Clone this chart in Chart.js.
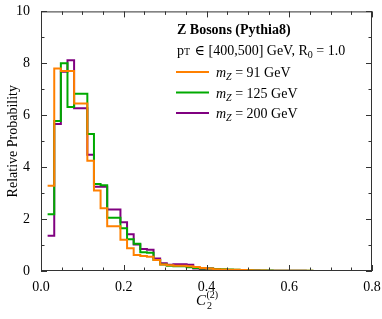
<!DOCTYPE html>
<html>
<head>
<meta charset="utf-8">
<script src="https://cdn.jsdelivr.net/npm/chart.js@4/dist/chart.umd.min.js"></script>
<style>
  html, body { margin: 0; padding: 0; background: #fff; }
  canvas { display: block; }
</style>
</head>
<body>
<canvas id="c2Chart" width="382" height="319"></canvas>
<script>
// histogram bins of width 0.016 from 0 to 0.8 (first bin empty)
const binWidth = 0.016;
const xTicks = [0.0, 0.2, 0.4, 0.6, 0.8];
const yTicks = [0, 2, 4, 6, 8, 10];

const mz91 = [null, 3.28, 7.80, 7.70, 7.70, 6.45, 6.45, 4.25, 3.10, 2.42,
  1.72, 1.72, 1.20, 0.88, 0.62, 0.58, 0.55, 0.42, 0.25, 0.22,
  0.20, 0.20, 0.18, 0.15, 0.12, 0.10, 0.07, 0.06, 0.05, 0.05,
  0.04, 0.03, 0.02, 0.02, 0.01, 0.01, 0.01, 0.01, 0.01, 0.01,
  0.01, 0.0, 0.0, 0.0, 0.0, 0.0, 0.0, 0.0, 0.0, 0.0];
const mz125 = [null, 2.19, 5.78, 8.00, 6.32, 6.83, 6.83, 5.28, 3.35, 3.30,
  2.05, 2.05, 1.65, 1.22, 1.05, 0.72, 0.70, 0.42, 0.25, 0.20,
  0.18, 0.18, 0.14, 0.12, 0.10, 0.10, 0.08, 0.07, 0.06, 0.05,
  0.04, 0.03, 0.02, 0.02, 0.02, 0.01, 0.01, 0.01, 0.01, 0.01,
  0.01, 0.0, 0.0, 0.0, 0.0, 0.0, 0.0, 0.0, 0.0, 0.0];
const mz200 = [null, 1.36, 5.66, 7.68, 8.12, 6.27, 6.27, 4.48, 3.25, 3.25,
  2.37, 2.37, 1.88, 1.42, 1.02, 0.85, 0.82, 0.48, 0.30, 0.24,
  0.26, 0.26, 0.24, 0.10, 0.06, 0.10, 0.08, 0.04, 0.03, 0.03,
  0.02, 0.02, 0.02, 0.01, 0.01, 0.01, 0.01, 0.01, 0.01, 0.01,
  0.0, 0.0, 0.0, 0.0, 0.0, 0.0, 0.0, 0.0, 0.0, 0.0];

const seriesLabels = ['91 GeV', '125 GeV', '200 GeV'];
const seriesColors = ['#ff8000', '#00aa00', '#800080'];

// turn bin values into step points (left edges + closing right edge)
function toSteps(vals) {
  const pts = vals.map((v, i) => ({ x: i * binWidth, y: v }));
  pts.push({ x: vals.length * binWidth, y: vals[vals.length - 1] });
  return pts;
}

const serif = '"Liberation Serif", "DejaVu Serif", serif';

// frame, inward ticks and all the text
const decorations = {
  id: 'decorations',
  afterDraw(chart) {
    const ctx = chart.ctx;
    const a = chart.chartArea;
    const xs = chart.scales.x, ys = chart.scales.y;
    ctx.save();
    ctx.strokeStyle = '#333';
    ctx.lineWidth = 1;
    ctx.strokeRect(a.left + 0.5, a.top + 0.5, a.right - a.left - 1, a.bottom - a.top - 1);

    ctx.beginPath();
    for (let k = 0; k <= 16; k++) {
      const v = k * 0.05;
      const px = Math.round(xs.getPixelForValue(v)) + 0.5;
      const len = (k % 4 === 0) ? 6 : 3.5;
      ctx.moveTo(px, a.bottom); ctx.lineTo(px, a.bottom - len);
      ctx.moveTo(px, a.top); ctx.lineTo(px, a.top + len);
    }
    for (let k = 0; k <= 10; k++) {
      const py = Math.round(ys.getPixelForValue(k)) + 0.5;
      const len = (k % 2 === 0) ? 6 : 3.5;
      ctx.moveTo(a.left, py); ctx.lineTo(a.left + len, py);
      ctx.moveTo(a.right, py); ctx.lineTo(a.right - len, py);
    }
    ctx.stroke();

    ctx.fillStyle = '#000';
    // y title
    ctx.save();
    ctx.translate(13, (a.top + a.bottom) / 2);
    ctx.rotate(-Math.PI / 2);
    ctx.font = '14px ' + serif;
    ctx.textAlign = 'center';
    ctx.textBaseline = 'middle';
    ctx.fillText('Relative Probability', 0, 0);
    ctx.restore();

    // x title  C_2^(2)
    ctx.textBaseline = 'alphabetic';
    ctx.textAlign = 'left';
    ctx.font = 'italic 15px ' + serif;
    const cx = 196, cy = 305;
    ctx.fillText('C', cx, cy);
    const cw = ctx.measureText('C').width;
    ctx.font = '10px ' + serif;
    ctx.fillText('2', cx + cw + 1, cy + 4);
    ctx.fillText('(2)', cx + cw + 0.5, cy - 7);

    // legend block
    ctx.font = 'bold 14px ' + serif;
    ctx.fillText('Z Bosons (Pythia8)', 177, 34);
    ctx.font = '14px ' + serif;
    let x = 177;
    ctx.fillText('p', x, 55); x += ctx.measureText('p').width;
    ctx.font = '10px ' + serif;
    ctx.fillText('T', x, 55); x += ctx.measureText('T').width + 1;
    ctx.font = '14px ' + serif;
    const mid = ' \u2208 [400,500] GeV, R';
    ctx.fillText(mid, x, 55); x += ctx.measureText(mid).width;
    ctx.font = '10px ' + serif;
    ctx.fillText('0', x, 58); x += ctx.measureText('0').width;
    ctx.font = '14px ' + serif;
    ctx.fillText(' = 1.0', x, 55);

    for (let i = 0; i < 3; i++) {
      const ly = 72 + i * 20.5;
      ctx.strokeStyle = seriesColors[i];
      ctx.lineWidth = 2;
      ctx.beginPath();
      ctx.moveTo(176, ly); ctx.lineTo(209, ly);
      ctx.stroke();
      let tx = 216;
      ctx.font = 'italic 14px ' + serif;
      ctx.fillText('m', tx, ly + 5); tx += ctx.measureText('m').width;
      ctx.font = 'italic 10px ' + serif;
      ctx.fillText('Z', tx, ly + 8); tx += ctx.measureText('Z').width;
      ctx.font = '14px ' + serif;
      ctx.fillText(' = ' + seriesLabels[i], tx, ly + 5);
    }
    ctx.restore();
  }
};

new Chart(document.getElementById('c2Chart'), {
  type: 'line',
  data: {
    datasets: [mz91, mz125, mz200].map((vals, i) => ({
      label: seriesLabels[i],
      data: toSteps(vals),
      borderColor: seriesColors[i],
      borderWidth: 2,
      stepped: 'before',
      pointRadius: 0,
      fill: false,
      spanGaps: false
    }))
  },
  options: {
    responsive: false,
    animation: false,
    layout: { padding: { top: 7, right: 10, left: 0, bottom: 0 } },
    plugins: { legend: { display: false }, tooltip: { enabled: false } },
    scales: {
      x: {
        type: 'linear',
        min: 0, max: 0.8,
        afterBuildTicks: (s) => { s.ticks = xTicks.map(v => ({ value: v })); },
        ticks: {
          callback: (v) => Number(v).toFixed(1),
          font: { family: serif, size: 14 },
          color: '#000',
          padding: 0,
          maxRotation: 0
        },
        grid: { display: false },
        border: { display: false },
        afterFit: (s) => { s.height = 48; }
      },
      y: {
        min: 0, max: 10,
        afterBuildTicks: (s) => { s.ticks = yTicks.map(v => ({ value: v })); },
        ticks: {
          font: { family: serif, size: 14 },
          color: '#000',
          padding: 3
        },
        grid: { display: false },
        border: { display: false },
        afterFit: (s) => { s.width = 41; }
      }
    }
  },
  plugins: [decorations]
});
</script>
</body>
</html>
